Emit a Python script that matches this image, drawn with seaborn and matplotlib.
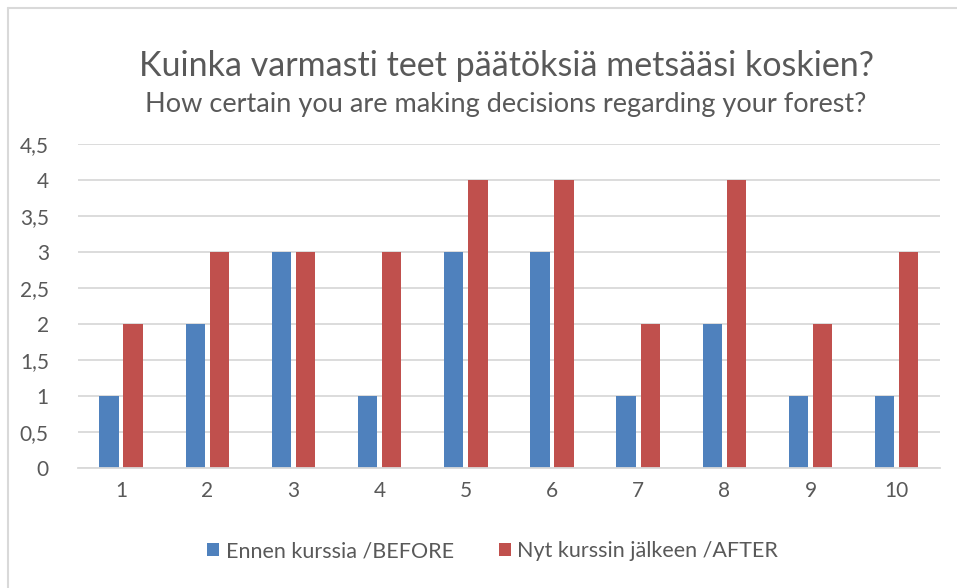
import numpy as np
import pandas as pd
import seaborn as sns
import matplotlib.pyplot as plt
from matplotlib.lines import Line2D

# data
categories = ["1", "2", "3", "4", "5", "6", "7", "8", "9", "10"]
before = [1, 2, 3, 1, 3, 3, 1, 2, 1, 1]
after = [2, 3, 3, 3, 4, 4, 2, 4, 2, 3]
series_names = ["Ennen kurssia /BEFORE", "Nyt kurssin jälkeen /AFTER"]
y_ticks = [0, 0.5, 1, 1.5, 2, 2.5, 3, 3.5, 4, 4.5]

df = pd.DataFrame({
    "cat": categories * 2,
    "value": before + after,
    "series": [series_names[0]] * len(categories) + [series_names[1]] * len(categories),
})

sns.set_style("white")
plt.rcParams['font.family'] = ['Lato', 'DejaVu Sans']
txt = "#595959"

fig = plt.figure(figsize=(9.57, 5.88), dpi=100)
ax = fig.add_axes([0.0815, 0.204, 0.9005, 0.551])

sns.barplot(data=df, x="cat", y="value", hue="series", order=categories,
            palette=["#4F81BD", "#C0504D"], width=0.56, gap=0.2,
            linewidth=0, saturation=1, ax=ax, legend=True)

ax.set_ylim(0, 4.5)
ax.set_yticks(y_ticks)
ax.set_yticklabels([f"{t:g}".replace(".", ",") for t in y_ticks])
ax.grid(axis="y", color="#D9D9D9", linewidth=1.3)
ax.set_axisbelow(True)
for s in ["top", "right", "left"]:
    ax.spines[s].set_visible(False)
ax.spines["bottom"].set_color("#D9D9D9")
ax.spines["bottom"].set_linewidth(1.3)
ax.tick_params(axis="both", length=0, labelsize=15, colors=txt, pad=9)
ax.tick_params(axis="y", pad=21)
ax.set_xlabel("")
ax.set_ylabel("")

handles, labels = ax.get_legend_handles_labels()
ax.legend(handles, labels, loc="center", bbox_to_anchor=(0.515, 0.0625),
          bbox_transform=fig.transFigure, ncol=2, frameon=False,
          fontsize=15.5, labelcolor=txt, handlelength=0.55, handleheight=0.55,
          handletextpad=0.3, columnspacing=2.1)

fig.text(0.529, 0.887, "Kuinka varmasti teet päätöksiä metsääsi koskien?",
         ha="center", va="center", fontsize=24.5, color=txt)
fig.text(0.528, 0.823, "How certain you are making decisions regarding your forest?",
         ha="center", va="center", fontsize=19.5, color=txt)

# chart frame (left and top edges visible)
fig.add_artist(Line2D([0.0085, 0.0085], [0, 0.9865], transform=fig.transFigure,
                      color="#D9D9D9", linewidth=1.5))
fig.add_artist(Line2D([0.0085, 1], [0.9865, 0.9865], transform=fig.transFigure,
                      color="#D9D9D9", linewidth=1.5))

fig.savefig("out.png", dpi=100)
